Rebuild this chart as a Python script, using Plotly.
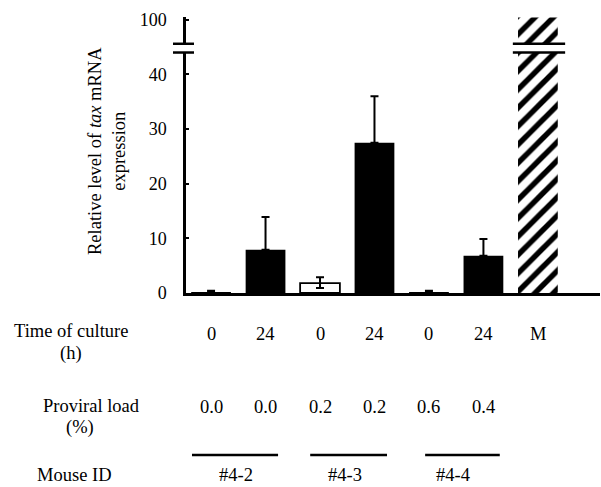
import plotly.graph_objects as go

# ---- data ----
time_labels = ["0", "24", "0", "24", "0", "24", "M"]
proviral_load = ["0.0", "0.0", "0.2", "0.2", "0.6", "0.4"]
mouse_ids = ["#4-2", "#4-3", "#4-4"]
tax_values = [0.05, 7.9, 1.8, 27.5, 0.05, 6.8]
err_plus = [0.35, 6.0, 1.1, 8.5, 0.35, 3.1]
err_minus = [0.0, 0.0, 0.9, 0.0, 0.0, 0.0]
bar_colors = ["black", "black", "white", "black", "black", "black"]
m_value = 101
y_tick_values = [0, 10, 20, 30, 40, 100]

FONT = "Liberation Serif"
W, H = 601, 487
L, R, T, B = 186, 1, 17, 194
PH = H - T - B


def to_axis(v):
    # broken axis: 0-44 linear, upper segment compressed
    return v if v <= 44 else 46 + (v - 90) * 0.4


def py(ypix):
    return (H - B - ypix) / PH


def px(xpix):
    return (xpix - L) / (W - L - R)


xs = list(range(len(time_labels)))

fig = go.Figure()
fig.add_trace(go.Bar(
    x=xs[:6], y=tax_values, width=0.73,
    marker=dict(color=bar_colors,
                line=dict(color="black", width=[0 if c == "black" else 1.8 for c in bar_colors])),
    error_y=dict(type="data", symmetric=False, array=err_plus, arrayminus=err_minus,
                 color="black", thickness=2, width=4),
    showlegend=False,
))
fig.add_trace(go.Bar(
    x=[xs[6]], y=[to_axis(m_value)], width=0.73,
    marker=dict(color="white", line=dict(width=0),
                pattern=dict(shape="/", fgcolor="black", bgcolor="white", fgopacity=1,
                             size=13, solidity=0.42, fillmode="overlay")),
    showlegend=False,
))

shapes = []
# axis break on y-axis
shapes.append(dict(type="rect", xref="paper", yref="y", x0=px(179), x1=px(194),
                   y0=44.1, y1=45.5, fillcolor="white", line=dict(width=0), layer="above"))
# axis break on M bar
shapes.append(dict(type="rect", xref="x", yref="y", x0=6 - 0.5, x1=6 + 0.5,
                   y0=44.1, y1=45.5, fillcolor="white", line=dict(width=0), layer="above"))
for yv in (44.0, 45.6):
    shapes.append(dict(type="line", xref="paper", yref="y", x0=px(173), x1=px(194),
                       y0=yv, y1=yv, line=dict(color="black", width=2.5), layer="above"))
    shapes.append(dict(type="line", xref="x", yref="y", x0=5.54, x1=6.5,
                       y0=yv, y1=yv, line=dict(color="black", width=2.5), layer="above"))
# mouse group underlines
group_offsets = [(-0.35, 1.23), (1.82, 3.23), (3.93, 5.3)]
for (a, b) in group_offsets:
    shapes.append(dict(type="line", xref="x", yref="paper", x0=a, x1=b,
                       y0=py(455), y1=py(455), line=dict(color="black", width=2.5)))

ann = []
f = dict(family=FONT, size=18.5, color="black")


def text_at(t, x, y, xref="paper", **kw):
    ann.append(dict(text=t, xref=xref, yref="paper", x=x, y=y, showarrow=False,
                    font=f, xanchor="center", yanchor="middle", **kw))


text_at("Relative level of <i>tax</i> mRNA<br>expression", px(107), py(151), textangle=-90)
text_at("Time of culture", px(71), py(331))
text_at("(h)", px(71), py(353))
text_at("Proviral load", px(91), py(406))
text_at("(%)", px(80), py(427))
text_at("Mouse ID", px(74), py(475))
for i, t in enumerate(time_labels):
    text_at(t, i, py(334), xref="x")
for i, t in enumerate(proviral_load):
    text_at(t, i, py(407), xref="x")
for g, t in enumerate(mouse_ids):
    text_at(t, 2 * g + 0.45, py(475), xref="x")

fig.update_layout(
    width=W, height=H, autosize=False,
    margin=dict(l=L, r=R, t=T, b=B, pad=0),
    plot_bgcolor="white", paper_bgcolor="white",
    barmode="overlay",
    shapes=shapes, annotations=ann,
    font=dict(family=FONT, size=18, color="black"),
)
fig.update_xaxes(range=[-0.46, 7.14], showline=True, linecolor="black", linewidth=2.5,
                 showticklabels=False, ticks="", showgrid=False, zeroline=False)
fig.update_yaxes(range=[0, 50.5], showline=True, linecolor="black", linewidth=2.5,
                 tickvals=[to_axis(v) for v in y_tick_values],
                 ticktext=[str(v) for v in y_tick_values],
                 ticks="inside", ticklen=3, tickwidth=1.5, tickcolor="black",
                 ticklabelstandoff=13, showgrid=False, zeroline=False,
                 tickfont=dict(family=FONT, size=18, color="black"))

fig.write_html("out.html", config={"displayModeBar": False},
               post_script="document.body.style.margin='0';document.body.style.overflow='hidden';")
